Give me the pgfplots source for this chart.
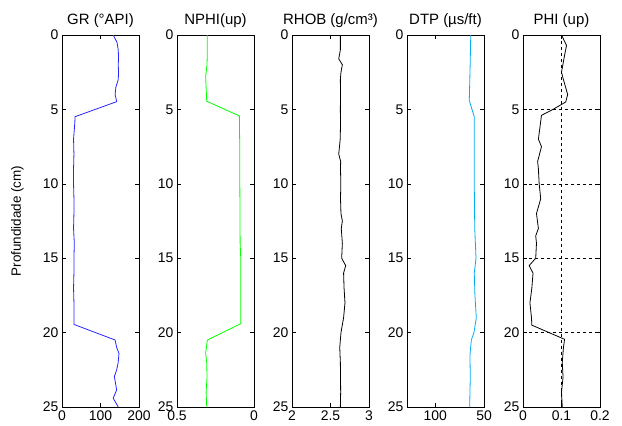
\documentclass[border=0pt]{standalone}
\usepackage{fontspec}
\setmainfont{Liberation Sans}
\usepackage{pgfplots}
\pgfplotsset{compat=1.18}

\newcommand{\fs}{\fontsize{14}{16}\selectfont}
\newcommand{\ft}{\fontsize{15}{17}\selectfont}

\pgfplotsset{
  logtrack/.style={
    scale only axis,
    width=77bp, height=372bp,
    anchor=south west,
    ymin=0, ymax=25,
    y dir=reverse,
    ytick={0,5,10,15,20,25},
    tick align=inside,
    major tick length=4bp,
    tick style={black, line width=0.6pt},
    axis line style={black, line width=0.7pt},
    tick label style={font=\fs},
    title style={font=\ft, yshift=-2bp},
    label style={font=\fontsize{13.5}{15}\selectfont},
    /pgf/number format/assume math mode=true,
    clip=true,
  },
}

\begin{document}
\begin{tikzpicture}
\path[use as bounding box] (0,0) rectangle (622bp,426bp);

% GR
\begin{axis}[logtrack, at={(62bp,19bp)},
    xmin=0, xmax=200, xtick={0,100,200},
    title={GR (°API)},
    ylabel={Profundidade (cm)},
    ylabel style={at={(axis description cs:-0.58,0.5)}, anchor=center}]
\addplot[blue!85!white, line width=0.8pt] coordinates {
(133,0) (143,0.5) (146,1) (147,1.5) (146,2) (147,2.5) (146,3) (140,3.5)
(138,4) (142,4.48) (34,5.49) (33,6) (30,7) (31,8) (30,9) (30,10) (31,11)
(31,12) (30,13) (32,14) (31,15) (31,16) (30,17) (31,18) (31,19) (31,19.45)
(138,20.5) (142,21) (148,21.4) (146,22) (142,22.5) (136,22.96) (139,23.4)
(142,23.86) (133,24.4) (146,25)
};
\end{axis}

% NPHI
\begin{axis}[logtrack, at={(177bp,19bp)},
    x dir=reverse, xmin=0, xmax=0.5, xtick={0,0.5},
    title={NPHI(up)}]
\addplot[green, line width=0.8pt] coordinates {
(0.303,0) (0.303,1) (0.305,2) (0.314,2.8) (0.311,3.5) (0.307,4.45)
(0.095,5.44) (0.092,8) (0.092,10) (0.091,12) (0.090,14) (0.086,15)
(0.086,17) (0.086,19.4) (0.303,20.5) (0.314,21.4) (0.307,22) (0.305,23)
(0.311,24) (0.307,25)
};
\end{axis}

% RHOB
\begin{axis}[logtrack, at={(292bp,19bp)},
    xmin=2, xmax=3, xtick={2,2.5,3},
    title={RHOB (g/cm³)}]
\addplot[black, line width=0.8pt] coordinates {
(2.628,0) (2.628,1) (2.607,1.6) (2.654,2) (2.636,2.5) (2.628,3) (2.630,4)
(2.628,5) (2.630,6) (2.626,7) (2.607,8) (2.632,8.5) (2.630,9) (2.634,10)
(2.630,11) (2.636,12) (2.654,12.5) (2.640,13) (2.654,14) (2.645,15)
(2.697,15.5) (2.670,16) (2.676,17) (2.688,18) (2.670,19) (2.636,20)
(2.620,21) (2.628,22) (2.630,23) (2.632,24) (2.628,25)
};
\end{axis}

% DTP
\begin{axis}[logtrack, at={(407bp,19bp)},
    x dir=reverse, xmin=50, xmax=129, xtick={50,100},
    title={DTP (µs/ft)}]
\addplot[cyan, line width=0.8pt] coordinates {
(63.6,0) (64.2,2) (65.1,4.4) (60.0,5.5) (60.0,8) (60.0,10) (59.5,13)
(58.2,15) (60.0,16) (59.3,17.5) (57.9,19) (60.3,20) (63.0,20.5)
(64.4,21.5) (64.1,23) (64.7,25)
};
\end{axis}

% PHI
\begin{axis}[logtrack, at={(523bp,19bp)},
    xmin=0, xmax=0.2, xtick={0,0.1,0.2},
    grid=major, grid style={black, dashed, line width=0.5pt},
    title={PHI (up)}]
\addplot[black, line width=0.8pt] coordinates {
(0.100,0) (0.113,0.7) (0.107,1.5) (0.100,2.5) (0.105,3) (0.116,4)
(0.111,4.5) (0.078,5) (0.048,5.4) (0.045,6) (0.040,7) (0.048,7.5)
(0.038,8.5) (0.040,9) (0.042,10) (0.046,11) (0.035,12) (0.040,13)
(0.033,13.5) (0.035,14) (0.033,15) (0.016,15.5) (0.026,16) (0.023,17)
(0.018,18) (0.022,19) (0.023,19.5) (0.108,20.45) (0.105,21) (0.102,22)
(0.104,23) (0.100,24) (0.102,25)
};
\end{axis}
\end{tikzpicture}
\end{document}
